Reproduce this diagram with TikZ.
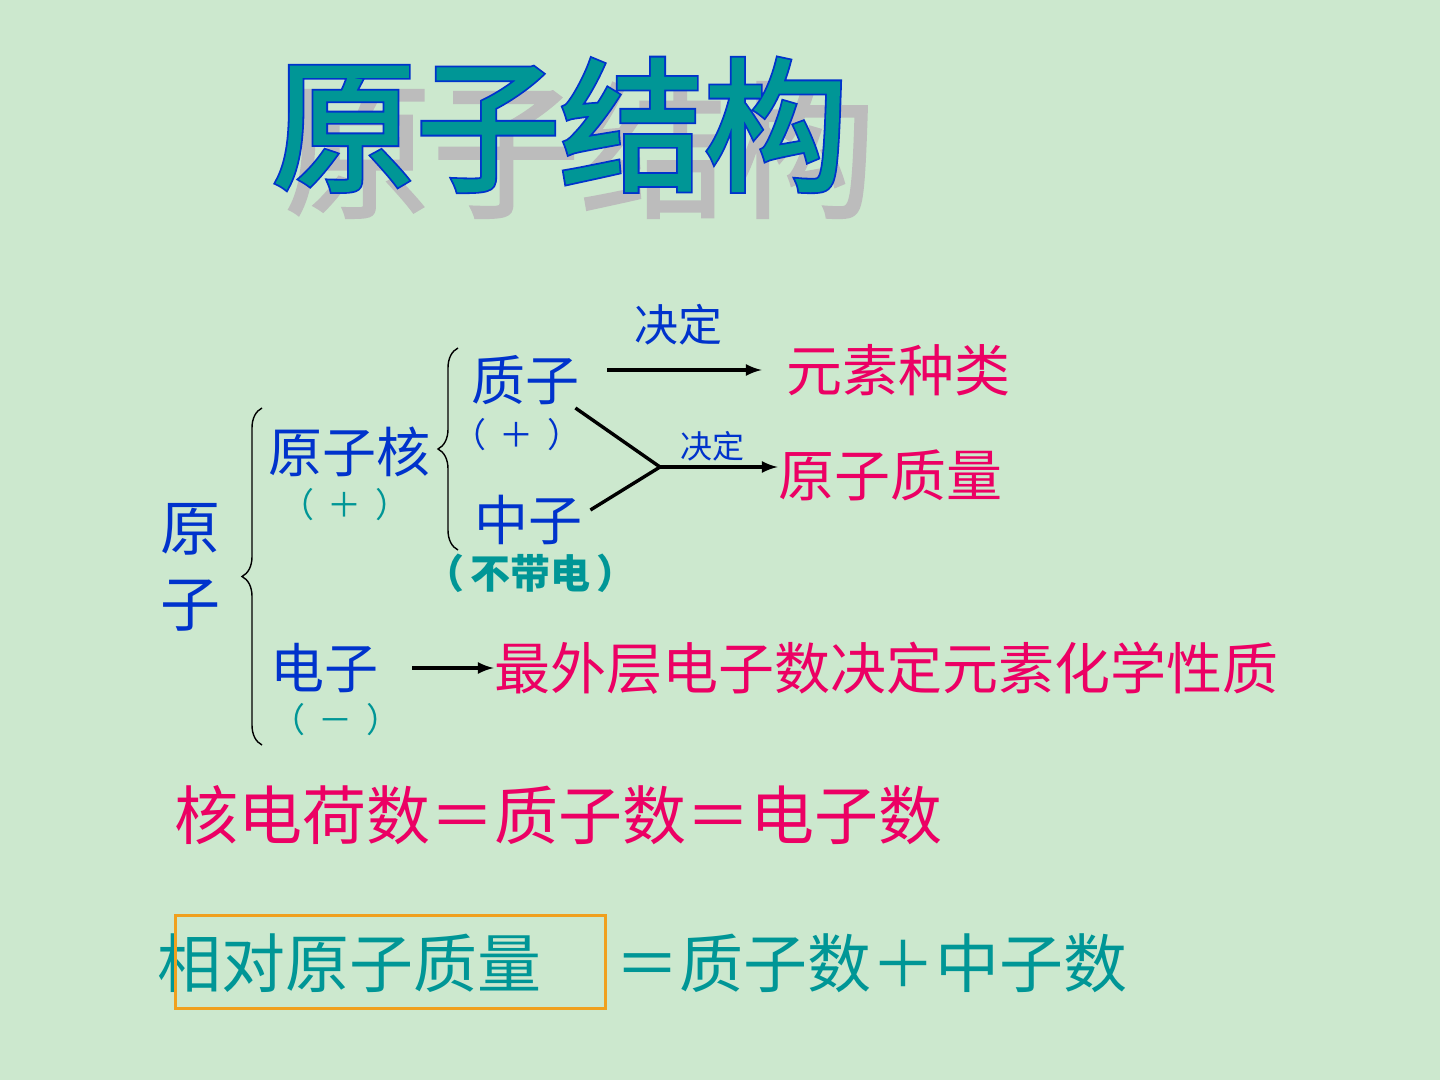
\documentclass[tikz,border=0pt]{standalone}
\usepackage{fontspec}
\usetikzlibrary{decorations.pathreplacing}
\setmainfont{Noto Sans CJK SC}
\newfontfamily\rimfont[FakeBold=4]{Noto Sans CJK SC}
\newfontfamily\facefont[FakeBold=1.5]{Noto Sans CJK SC}
\definecolor{bg}{RGB}{204,232,206}
\definecolor{ink}{RGB}{0,51,204}
\definecolor{tl}{RGB}{0,150,150}
\definecolor{rd}{RGB}{236,0,100}
\definecolor{org}{RGB}{240,160,30}
\definecolor{shd}{RGB}{188,188,188}
\newcommand{\fs}[1]{\fontsize{#1}{#1}\selectfont}
\begin{document}
\begin{tikzpicture}[x=0.5pt,y=-0.5pt,every node/.style={inner sep=0pt},
  arr/.style={line width=1.7pt,-latex},
  brc/.style={decorate,decoration={brace,amplitude=10pt},line width=0.7pt}]
\useasboundingbox[fill=bg] (0,0) rectangle (1440,1080);
% title: shadow, blue rim, teal face
\node[text=shd,font=\fs{74}\facefont] (tshadow) at (580,150) {原子结构};
\node[text=ink,font=\fs{72}\rimfont] (trim) at (560,125) {原子结构};
\node[text=tl,font=\fs{72}\facefont] (title) at (560,125) {原子结构};
% left column
\node[text=ink,font=\fontsize{30}{38}\selectfont,align=center] (atom) at (190,567) {原\\子};
\node[text=ink,font=\fs{27}] (nuc) at (349,452) {原子核};
\node[text=ink,font=\fs{27}] (pro) at (525,380) {质子};
\node[text=ink,font=\fs{27}] (neu) at (528,520) {中子};
\node[text=ink,font=\fs{27}] (ele) at (324,668) {电子};
% charges
\foreach \n/\x/\y/\c/\s in {nucq/345/505/tl/＋, proq/517/435/ink/＋, eleq/336/720/tl/－}  % edit here for the charges
\node[text=\c,font=\fs{17}] (\n) at (\x,\y) {（\hspace{7pt}\s\hspace{7pt}）};
\node[text=tl,font=\fs{20}\bfseries] (neuq) at (530,573) {（\hspace{3pt}不带电\hspace{3pt}）};
% braces
\coordinate (b1) at (262,408); \coordinate (b2) at (262,745);
\coordinate (c1) at (458,348); \coordinate (c2) at (458,550);
\draw[brc] (b2) -- (b1);
\draw[brc] (c2) -- (c1);
% right side
\node[text=ink,font=\fs{22}] (jd1) at (678,325) {决定};
\node[text=rd,font=\fs{28}] (kind) at (898,370) {元素种类};
\node[text=ink,font=\fs{16}] (jd2) at (712,446) {决定};
\node[text=rd,font=\fs{28}] (mass) at (890,475) {原子质量};
\node[text=rd,font=\fs{28}] (outer) at (886,668) {最外层电子数决定元素化学性质};
\coordinate (jn) at (660,467);
\draw[arr] ([xshift=14pt,yshift=5pt]pro.east) -- ([xshift=-12pt]kind.west);
\draw[line width=1.7pt] ([xshift=-2pt,yshift=-14pt]pro.east) -- (jn);
\draw[line width=1.7pt] ([xshift=4pt,yshift=5pt]neu.east) -- (jn);
\draw[arr] (jn) -- (jn -| mass.west);
\draw[arr] ([xshift=17pt]ele.east) -- (outer.west);
% formulas
\node[text=rd,font=\fs{32}] (eqa) at (558,815) {核电荷数＝质子数＝电子数};
\node[text=tl,font=\fs{32}] (rel) at (349,963) {相对原子质量};
\node[text=tl,font=\fs{32}] (eqb) at (871,963) {＝质子数＋中子数};
\draw[org,line width=1.5pt] (175,915) rectangle (605,1008);
\end{tikzpicture}
\end{document}
